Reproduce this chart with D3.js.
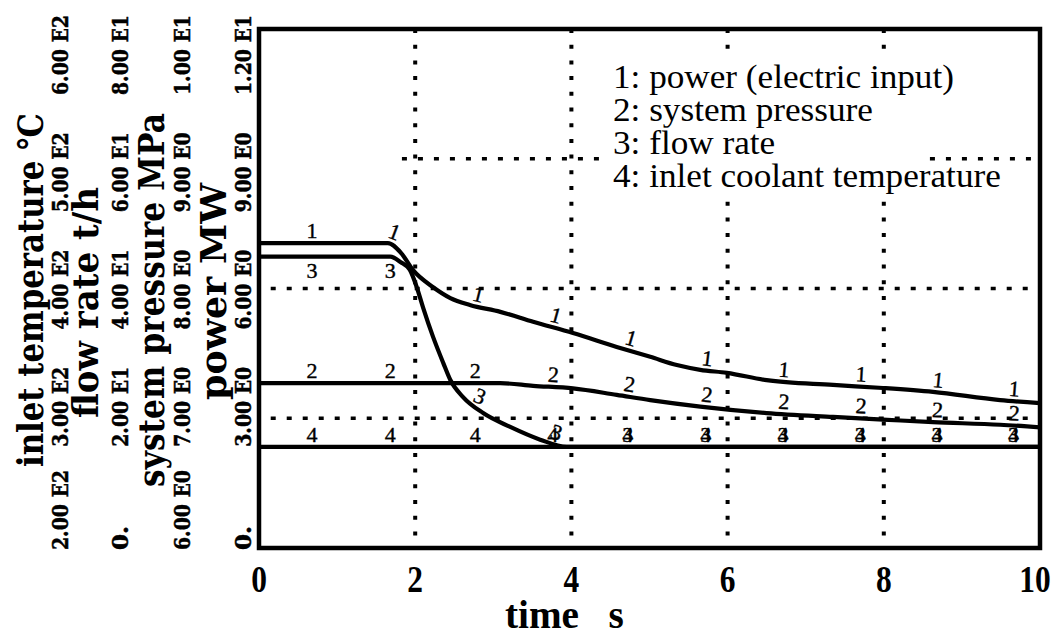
<!DOCTYPE html>
<html><head><meta charset="utf-8">
<script src="https://cdn.jsdelivr.net/npm/d3@7"></script>
<style>body{margin:0;background:#fff}</style>
</head><body>
<svg id="chart" width="1052" height="637"></svg>
<script>
// time axis, s
const timeTicks = [0, 2, 4, 6, 8, 10];

// 1: power (electric input), MW
const powerTime = [0, 1.65, 1.82, 1.97, 2.23, 2.45, 2.70, 3.09, 3.51, 4.02, 4.58, 5.01, 5.35, 5.65, 5.99, 6.50, 7.35, 7.99, 8.63, 9.49, 10];
const powerMW   = [7.05, 7.05, 6.82, 6.43, 6.03, 5.78, 5.62, 5.46, 5.23, 4.97, 4.65, 4.42, 4.23, 4.12, 4.05, 3.88, 3.77, 3.70, 3.61, 3.42, 3.35];

// 2: system pressure, MPa
const pressureTime = [0, 3.09, 3.51, 4.02, 4.58, 5.01, 5.65, 6.50, 7.35, 7.99, 8.63, 9.49, 10];
const pressureMPa  = [7.27, 7.27, 7.25, 7.23, 7.18, 7.14, 7.09, 7.04, 7.01, 6.99, 6.97, 6.95, 6.93];

// 3: flow rate, t/h
const flowTime = [0, 1.68, 1.81, 1.93, 2.02, 2.10, 2.23, 2.36, 2.45, 2.61, 2.87, 3.21, 3.60, 3.94, 10];
const flowTH   = [44.9, 44.9, 44.1, 42.9, 40.2, 37.1, 32.5, 28.5, 25.9, 23.3, 20.8, 18.7, 16.7, 15.6, 15.6];

// 4: inlet coolant temperature, degC
const inletTime  = [0, 10];
const inletTempC = [278, 278];

// where the curve numbers are written along each line
const curveLabelTimes = [0.68, 1.68, 2.77, 3.76, 4.72, 5.72, 6.71, 7.70, 8.68, 9.66];

// left-hand value axes (bottom to top)
const tempTickValues = [200, 300, 400, 500, 600];
const tempTickLabels = ["2.00 E2", "3.00 E2", "4.00 E2", "5.00 E2", "6.00 E2"];
const flowTickValues = [0, 20, 40, 60, 80];
const flowTickLabels = ["0.", "2.00 E1", "4.00 E1", "6.00 E1", "8.00 E1"];
const pressureTickValues = [6, 7, 8, 9, 10];
const pressureTickLabels = ["6.00 E0", "7.00 E0", "8.00 E0", "9.00 E0", "1.00 E1"];
const powerTickValues = [0, 3, 6, 9, 12];
const powerTickLabels = ["0.", "3.00 E0", "6.00 E0", "9.00 E0", "1.20 E1"];

const legendItems = ["1: power (electric input)", "2: system pressure", "3: flow rate", "4: inlet coolant temperature"];

// ---------------------------------------------------------------
const svg = d3.select("#chart");
const plotLeft = 259, plotRight = 1040, plotTop = 29, plotBottom = 548;

const x = d3.scaleLinear().domain([0, 10]).range([plotLeft, plotRight]);
const yPower = d3.scaleLinear().domain([0, 12]).range([plotBottom, plotTop]);
const yPressure = d3.scaleLinear().domain([6, 10]).range([plotBottom, plotTop]);
const yFlow = d3.scaleLinear().domain([0, 80]).range([plotBottom, plotTop]);
const yTemp = d3.scaleLinear().domain([200, 600]).range([plotBottom, plotTop]);

const serifBold = "'DejaVu Serif', serif";
const times = "'Liberation Serif', 'Times New Roman', serif";

// dotted grid
const grid = svg.append("g").attr("stroke", "#000").attr("fill", "none");
grid.selectAll("line.v").data(timeTicks.filter(d => d > 0 && d < 10)).join("line")
  .attr("x1", d => x(d)).attr("x2", d => x(d))
  .attr("y1", plotTop).attr("y2", plotBottom)
  .attr("stroke-width", 4).attr("stroke-dasharray", "4 11.7");
const gridStart = {3: 0.15, 6: 0.15, 9: 1.83};
grid.selectAll("line.h").data([3, 6, 9]).join("line")
  .attr("x1", d => x(gridStart[d])).attr("x2", plotRight)
  .attr("y1", d => yPower(d)).attr("y2", d => yPower(d))
  .attr("stroke-width", 3.6).attr("stroke-dasharray", "5 11");

// legend block
const legend = svg.append("g");
legend.append("rect").attr("x", 607).attr("y", 58).attr("width", 313).attr("height", 139).attr("fill", "#fff");
legend.selectAll("text").data(legendItems).join("text")
  .attr("transform", (d, i) => `translate(613,${88 + i * 33}) scale(1.1,1.05)`)
  .attr("font-family", times).attr("font-size", 32)
  .attr("fill", "#000").attr("stroke", "#fff").attr("stroke-width", 5)
  .attr("paint-order", "stroke")
  .text(d => d);

// curves
const series = [
  {key: "1", t: powerTime, v: powerMW, y: yPower},
  {key: "2", t: pressureTime, v: pressureMPa, y: yPressure},
  {key: "3", t: flowTime, v: flowTH, y: yFlow},
  {key: "4", t: inletTime, v: inletTempC, y: yTemp}
];

const line = d3.line().curve(d3.curveMonotoneX);
series.forEach(s => {
  const pts = s.t.map((t, i) => [x(t), s.y(s.v[i])]);
  const path = svg.append("path").attr("d", line(pts))
    .attr("fill", "none").attr("stroke", "#000").attr("stroke-width", 4.2)
    .attr("stroke-linejoin", "round");
  // sample the drawn curve so numbers can sit on it exactly
  const node = path.node(), len = node.getTotalLength();
  s.samples = d3.range(0, len + 1, 1).map(l => node.getPointAtLength(Math.min(l, len)));
});

// y of the drawn curve at pixel column px
function curveY(s, px) {
  const i = d3.bisector(p => p.x).left(s.samples, px);
  const a = s.samples[Math.max(0, i - 1)], b = s.samples[Math.min(s.samples.length - 1, i)];
  if (b.x === a.x) return a.y;
  return a.y + (b.y - a.y) * (px - a.x) / (b.x - a.x);
}

// curve numbers, written along the line and tilted gently with it
const labels = svg.append("g").attr("font-family", times).attr("font-size", 22).attr("fill", "#000");
series.slice().reverse().forEach(s => {
  curveLabelTimes.forEach(t => {
    const px = x(t), py = curveY(s, px);
    const ay = curveY(s, px - 5), by = curveY(s, px + 5);
    let ang = Math.atan2(by - ay, 10) * 180 / Math.PI;
    ang = Math.max(-22, Math.min(22, ang));
    const below = s.key === "3" && t < 2;
    if (below) ang = 0;
    labels.append("text")
      .attr("transform", `translate(${px},${py}) rotate(${ang})`)
      .attr("x", 0).attr("y", below ? 21 : -5)
      .attr("text-anchor", "middle")
      .attr("stroke", "#000").attr("stroke-width", 0.4)
      .text(s.key);
  });
});

// frame
svg.append("rect").attr("x", plotLeft).attr("y", plotTop)
  .attr("width", plotRight - plotLeft).attr("height", plotBottom - plotTop)
  .attr("fill", "none").attr("stroke", "#000").attr("stroke-width", 4.5);

// time axis
svg.append("g").selectAll("text").data(timeTicks).join("text")
  .attr("transform", d => `translate(${Math.min(x(d), 1035)},592) scale(0.85,1)`)
  .attr("text-anchor", "middle")
  .attr("font-family", times).attr("font-weight", "bold").attr("font-size", 37)
  .text(d => d);
svg.append("text").attr("transform", "translate(505,628) scale(0.98,1)")
  .attr("font-family", times).attr("font-weight", "bold").attr("font-size", 40)
  .style("white-space", "pre")
  .text("time   s");

// stacked left axes: rotated titles and tick labels
const axes = [
  {title: "inlet temperature \u2103", titleX: 43, y0: 467, y1: 113, tickX: 68, values: tempTickValues, labels: tempTickLabels, scale: yTemp},
  {title: "flow rate t/h", titleX: 98, y0: 418, y1: 187, tickX: 128, values: flowTickValues, labels: flowTickLabels, scale: yFlow},
  {title: "system pressure MPa", titleX: 164, y0: 487, y1: 113, tickX: 190, values: pressureTickValues, labels: pressureTickLabels, scale: yPressure},
  {title: "power MW", titleX: 226, y0: 400, y1: 183, tickX: 251, values: powerTickValues, labels: powerTickLabels, scale: yPower}
];

axes.forEach(a => {
  svg.append("text")
    .attr("transform", `translate(${a.titleX},${a.y0}) rotate(-90)`)
    .attr("font-family", serifBold).attr("font-weight", "bold").attr("font-size", 35)
    .attr("textLength", a.y0 - a.y1).attr("lengthAdjust", "spacingAndGlyphs")
    .text(a.title);
  // tick labels are set a little apart from the ticks, bottom one flush with the frame
  const slot = d3.scaleLinear().domain(a.scale.domain()).range([524, 55]);
  a.values.forEach((v, i) => {
    const t = svg.append("text")
      .attr("transform", `translate(${a.tickX},${i === 0 ? 550 : slot(v)}) rotate(-90)`)
      .attr("text-anchor", i === 0 ? "start" : "middle")
      .attr("font-family", serifBold).attr("font-weight", "bold").attr("font-size", 23)
      .attr("stroke", "#000").attr("stroke-width", 0.5)
      .text(a.labels[i]);
    if (a.labels[i].length > 3) t.attr("textLength", 80).attr("lengthAdjust", "spacingAndGlyphs");
  });
});
</script>
</body></html>
